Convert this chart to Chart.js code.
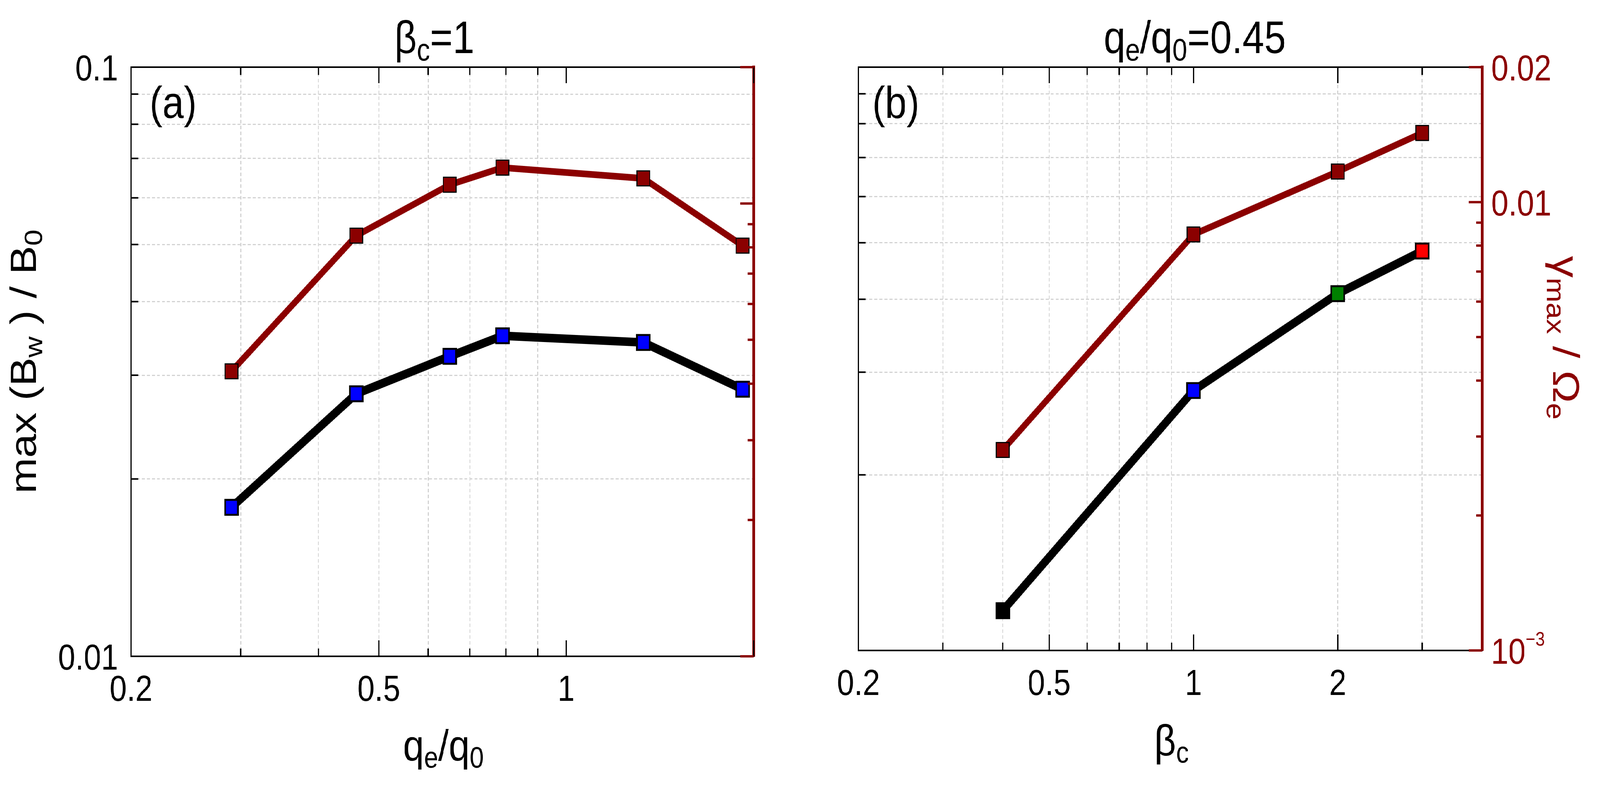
<!DOCTYPE html>
<html>
<head>
<meta charset="utf-8">
<script src="https://cdn.jsdelivr.net/npm/chart.js@4.4.1/dist/chart.umd.min.js"></script>
<style>
html, body { margin: 0; padding: 0; background: #fff; overflow: hidden; }
#wrap { position: absolute; left: 0; top: 0; width: 4762px; height: 2049px; transform-origin: 0 0; }
canvas { position: absolute; top: 0; }
#panelA { left: 0; }
#panelB { left: 2400px; }
</style>
</head>
<body>
<div id="wrap">
<canvas id="panelA" width="2400" height="2049"></canvas>
<canvas id="panelB" width="2362" height="2049"></canvas>
</div>
<script>
// the figure is laid out at 4762x2049, stretch it onto whatever window we get
const sw = window.innerWidth || 4762;
const sh = window.innerHeight || 2049;
document.getElementById('wrap').style.transform = 'scale(' + (sw / 4762) + ',' + (sh / 2049) + ')';

// (a) beta_c = 1, scan over q_e/q_0
const qRatio = [0.29, 0.46, 0.65, 0.79, 1.33, 1.92];
const bwA = [0.0179, 0.0279, 0.0323, 0.0350, 0.0341, 0.0284];
const gammaA = [0.00426, 0.00849, 0.0110, 0.0120, 0.01136, 0.00807];

// (b) q_e/q_0 = 0.45, scan over beta_c
const betaC = [0.4, 1, 2, 3];
const bwB = [0.0117, 0.0279, 0.0409, 0.0484];
const gammaB = [0.0028, 0.00847, 0.0117, 0.01426];

// axis ticks
const xMajor = [0.2, 0.5, 1, 2];
const xMinorA = [0.3, 0.4, 0.6, 0.7, 0.8, 0.9];
const xMinorB = [0.3, 0.4, 0.6, 0.7, 0.8, 0.9, 3];
const xGridA = [0.3, 0.4, 0.5, 0.6, 0.7, 0.8, 0.9];
const xGridB = [0.3, 0.4, 0.5, 0.6, 0.7, 0.8, 0.9, 2, 3];
const xLabelsA = [0.2, 0.5, 1];
const xLabelsB = [0.2, 0.5, 1, 2];
const yMinor = [0.02, 0.03, 0.04, 0.05, 0.06, 0.07, 0.08, 0.09];
const yLabelVals = [0.01, 0.1];
const yLabelText = ['0.01', '0.1'];
const gMajor = [0.001, 0.01, 0.02];
const gMinor = [0.002, 0.003, 0.004, 0.005, 0.006, 0.007, 0.008, 0.009];
const gLabelText = [[['10'], ['\u22123', 'sup']], [['0.01']], [['0.02']]];

const FONT = '"Liberation Sans", Arial, Helvetica, sans-serif';
const DARKRED = '#8b0000';

function setFont(ctx, size) {
    ctx.font = size + 'px ' + FONT;
}
function partSize(p, size) {
    if (p[1] === 'sub') return size * 0.68;
    if (p[1] === 'sup') return size * 0.55;
    return size;
}
function partShift(p, size) {
    if (p[1] === 'sub') return size * 0.16;
    if (p[1] === 'sup') return -size * 0.5;
    return 0;
}
// text with sub/superscripts, parts = [[text, mode], ...]
function drawRich(ctx, parts, x, y, size, color, align, rot) {
    ctx.save();
    ctx.translate(x, y);
    if (rot) ctx.rotate(rot);
    ctx.fillStyle = color;
    ctx.textBaseline = 'alphabetic';
    ctx.textAlign = 'left';
    let w = 0;
    parts.forEach((p) => {
        setFont(ctx, partSize(p, size));
        w += ctx.measureText(p[0]).width;
    });
    let cx = align === 'center' ? -w / 2 : align === 'right' ? -w : 0;
    parts.forEach((p) => {
        setFont(ctx, partSize(p, size));
        ctx.fillText(p[0], cx, partShift(p, size));
        cx += ctx.measureText(p[0]).width;
    });
    ctx.restore();
}

function decorPlugin(cfg) {
    return {
        id: 'decor',
        afterDraw(chart) {
            const ctx = chart.ctx;
            const a = chart.chartArea;
            const sx = chart.scales.x;
            const sy = chart.scales.y;
            const sg = chart.scales.y2;

            // box top + inward ticks
            ctx.save();
            ctx.lineWidth = 4;
            ctx.strokeStyle = '#000';
            ctx.beginPath();
            ctx.moveTo(a.left - 2, a.top);
            ctx.lineTo(a.right, a.top);
            [[xMajor, 41], [cfg.xMinor, 20]].forEach(([vals, len]) => {
                vals.forEach((v) => {
                    const px = sx.getPixelForValue(v);
                    ctx.moveTo(px, a.bottom);
                    ctx.lineTo(px, a.bottom - len);
                    ctx.moveTo(px, a.top);
                    ctx.lineTo(px, a.top + len);
                });
            });
            yMinor.forEach((v) => {
                const py = sy.getPixelForValue(v);
                ctx.moveTo(a.left, py);
                ctx.lineTo(a.left + 21, py);
            });
            ctx.stroke();

            ctx.lineWidth = 6;
            ctx.strokeStyle = DARKRED;
            ctx.beginPath();
            [[gMajor, 40], [gMinor, 18]].forEach(([vals, len]) => {
                vals.forEach((v) => {
                    const py = sg.getPixelForValue(v);
                    ctx.moveTo(a.right, py);
                    ctx.lineTo(a.right - len, py);
                });
            });
            ctx.stroke();
            ctx.restore();

            // tick labels
            cfg.xLabels.forEach((v) => {
                drawRich(ctx, [[String(v)]], sx.getPixelForValue(v), a.bottom + 114, 92, '#000', 'center');
            });
            if (cfg.leftLabels) {
                yLabelVals.forEach((v, i) => {
                    drawRich(ctx, [[yLabelText[i]]], a.left - 38, sy.getPixelForValue(v) + 34, 92, '#000', 'right');
                });
            }
            if (cfg.rightLabels) {
                gMajor.forEach((v, i) => {
                    drawRich(ctx, gLabelText[i], a.right + 27, sg.getPixelForValue(v) + 34, 92, DARKRED, 'left');
                });
            }

            // titles and axis labels
            drawRich(ctx, cfg.title, cfg.titleX, 136, 116, '#000', 'center');
            drawRich(ctx, cfg.xTitle, cfg.xTitleX, cfg.xTitleY, 112, '#000', 'center');
            drawRich(ctx, cfg.tag, cfg.tagX, 302, 115, '#000', 'left');
            if (cfg.yTitle) {
                drawRich(ctx, cfg.yTitle, 107, 926, 110, '#000', 'center', -Math.PI / 2);
            }
            if (cfg.gTitle) {
                drawRich(ctx, cfg.gTitle, cfg.gTitleX, 865, 112, DARKRED, 'center', Math.PI / 2);
            }
        },
    };
}

function makePanel(id, cfg) {
    const gridOpts = { color: '#d3d3d3', lineWidth: 3, drawTicks: false };
    return new Chart(document.getElementById(id), {
        type: 'line',
        data: {
            datasets: [
                {
                    data: cfg.xs.map((x, i) => ({ x: x, y: cfg.bw[i] })),
                    yAxisID: 'y',
                    borderColor: '#000',
                    borderWidth: 22,
                    pointStyle: 'rect',
                    pointRadius: 27,
                    pointBackgroundColor: cfg.bwMarker,
                    pointBorderColor: '#000',
                    pointBorderWidth: 5,
                },
                {
                    data: cfg.xs.map((x, i) => ({ x: x, y: cfg.gamma[i] })),
                    yAxisID: 'y2',
                    borderColor: DARKRED,
                    borderWidth: 17,
                    pointStyle: 'rect',
                    pointRadius: 27,
                    pointBackgroundColor: DARKRED,
                    pointBorderColor: '#000',
                    pointBorderWidth: 3,
                },
            ],
        },
        options: {
            responsive: false,
            animation: false,
            devicePixelRatio: 1,
            events: [],
            layout: { padding: { top: 172, left: 0, right: 0, bottom: 0 } },
            plugins: { legend: { display: false }, title: { display: false }, tooltip: { enabled: false } },
            scales: {
                x: {
                    type: 'logarithmic',
                    position: 'bottom',
                    min: 0.2,
                    max: cfg.xMax,
                    afterBuildTicks: (s) => { s.ticks = cfg.xGrid.map((v) => ({ value: v })); },
                    afterFit: (s) => { s.height = cfg.bottomH; },
                    ticks: { display: false },
                    grid: gridOpts,
                    border: { display: true, color: '#000', width: 4, dash: [9, 6] },
                },
                y: {
                    type: 'logarithmic',
                    position: 'left',
                    min: 0.01,
                    max: 0.1,
                    afterBuildTicks: (s) => { s.ticks = yMinor.map((v) => ({ value: v })); },
                    afterFit: (s) => { s.width = cfg.leftW; },
                    ticks: { display: false },
                    grid: gridOpts,
                    border: { display: true, color: '#000', width: 4, dash: [9, 6] },
                },
                y2: {
                    type: 'logarithmic',
                    position: 'right',
                    min: 0.001,
                    max: 0.02,
                    afterFit: (s) => { s.width = cfg.rightW; },
                    ticks: { display: false },
                    grid: { display: false },
                    border: { display: true, color: DARKRED, width: 8 },
                },
            },
        },
        plugins: [decorPlugin(cfg)],
    });
}

makePanel('panelA', {
    xs: qRatio, bw: bwA, gamma: gammaA,
    bwMarker: '#0000ff',
    xMax: 2, xMinor: xMinorA, xGrid: xGridA, xLabels: xLabelsA,
    leftW: 390, rightW: 157, bottomH: 368,
    leftLabels: true, rightLabels: false,
    title: [['\u03b2'], ['c', 'sub'], ['=1']], titleX: 1293,
    xTitle: [['q'], ['e', 'sub'], ['/q'], ['0', 'sub']], xTitleX: 1320, xTitleY: 1948,
    tag: [['(a)']], tagX: 445,
    yTitle: [['max (B'], ['w', 'sub'], [' ) / B'], ['0', 'sub']],
});

makePanel('panelB', {
    xs: betaC, bw: bwB, gamma: gammaB,
    bwMarker: ['#000000', '#0000ff', '#008000', '#ff0000'],
    xMax: 4, xMinor: xMinorB, xGrid: xGridB, xLabels: xLabelsB,
    leftW: 155, rightW: 351, bottomH: 383,
    leftLabels: false, rightLabels: true,
    title: [['q'], ['e', 'sub'], ['/q'], ['0', 'sub'], ['=0.45']], titleX: 1156,
    xTitle: [['\u03b2'], ['c', 'sub']], xTitleX: 1087, xTitleY: 1935,
    tag: [['(b)']], tagX: 196,
    gTitle: [['\u03b3'], ['max', 'sub'], [' / \u03a9'], ['e', 'sub']], gTitleX: 2222,
});
</script>
</body>
</html>
